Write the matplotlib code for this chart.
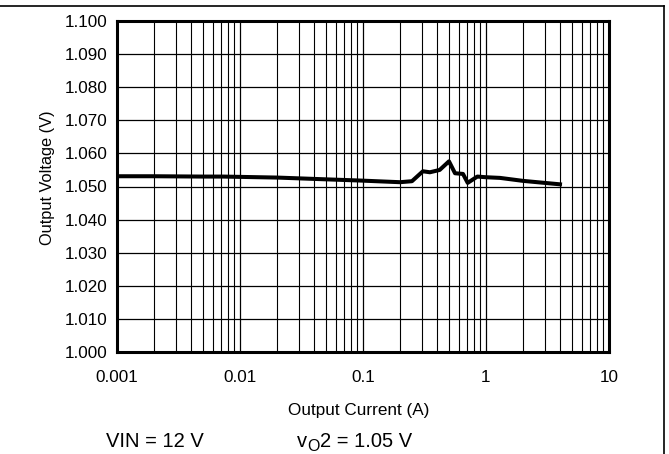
import matplotlib
matplotlib.use("Agg")
import matplotlib.pyplot as plt
from matplotlib.lines import Line2D
from matplotlib.ticker import LogLocator, FixedLocator, NullFormatter

plt.rcParams['font.family'] = ['Liberation Sans', 'DejaVu Sans']

# Load regulation curve
current_a = [0.001, 0.002, 0.005, 0.0073, 0.02, 0.047, 0.095, 0.2, 0.25, 0.307,
             0.35, 0.42, 0.5, 0.56, 0.65, 0.71, 0.85, 1.0, 1.3, 2.0, 4.15]
vout_v = [1.0531, 1.0531, 1.0530, 1.0530, 1.0527, 1.0522, 1.0518, 1.0513, 1.0516, 1.0546,
          1.0543, 1.0550, 1.0576, 1.0540, 1.0538, 1.0511, 1.0530, 1.0528, 1.0526, 1.0517, 1.0506]

x_ticks = [0.001, 0.01, 0.1, 1, 10]
x_tick_labels = ["0.001", "0.01", "0.1", "1", "10"]
y_ticks = [1.000, 1.010, 1.020, 1.030, 1.040, 1.050, 1.060, 1.070, 1.080, 1.090, 1.100]
y_tick_labels = [f"{v:.3f}" for v in y_ticks]

W, H = 669, 454
fig = plt.figure(figsize=(W / 100, H / 100), dpi=100)
ax = fig.add_axes([117 / W, 1 - 352 / H, (609 - 117) / W, (352 - 21) / H])

ax.set_xscale('log')
ax.set_xlim(0.001, 10)
ax.set_ylim(1.000, 1.100)

ax.xaxis.set_major_locator(FixedLocator(x_ticks))
ax.set_xticks(x_ticks)
ax.set_xticklabels(x_tick_labels)
ax.xaxis.set_minor_locator(LogLocator(base=10, subs=range(2, 10), numticks=20))
ax.xaxis.set_minor_formatter(NullFormatter())
ax.set_yticks(y_ticks)
ax.set_yticklabels(y_tick_labels)

ax.grid(which='major', axis='both', color='black', linewidth=0.9)
ax.grid(which='minor', axis='x', color='black', linewidth=0.8)
ax.set_axisbelow(True)

ax.tick_params(axis='both', which='both', length=0, labelsize=12.3)
ax.tick_params(axis='y', pad=7)
ax.tick_params(axis='x', pad=13)

for s in ax.spines.values():
    s.set_linewidth(2.2)
    s.set_color('black')

ax.plot(current_a, vout_v, color='black', linewidth=2.9, solid_joinstyle='round',
        solid_capstyle='butt', zorder=5)

ax.set_ylabel("Output Voltage (V)", fontsize=11.8)
ax.yaxis.set_label_coords((55 - 117) / 492, 0.525)
fig.text(359 / W, 1 - 411 / H, "Output Current (A)", ha='center', va='center', fontsize=12.3)

# Operating conditions
base_y = 1 - 447 / H
fig.text(106 / W, base_y, "VIN = 12 V", ha='left', va='baseline', fontsize=14.5)

renderer = fig.canvas.get_renderer()
t_v = fig.text(297 / W, base_y, "v", ha='left', va='baseline', fontsize=14.5)
w_v = t_v.get_window_extent(renderer).width
t_sub = fig.text(297 / W + w_v / W, base_y - 4 / H, "O", ha='left', va='baseline', fontsize=11.5)
w_sub = t_sub.get_window_extent(renderer).width
fig.text(297 / W + (w_v + w_sub) / W, base_y, "2 = 1.05 V", ha='left', va='baseline', fontsize=14.5)

# Page border lines (top and right)
fig.add_artist(Line2D([0, 663.5 / W], [1 - 5.5 / H, 1 - 5.5 / H], transform=fig.transFigure,
                      color='black', linewidth=1.2))
fig.add_artist(Line2D([663.5 / W, 663.5 / W], [1 - 5.5 / H, 0], transform=fig.transFigure,
                      color='black', linewidth=1.2))

fig.savefig("out.png", dpi=100)
